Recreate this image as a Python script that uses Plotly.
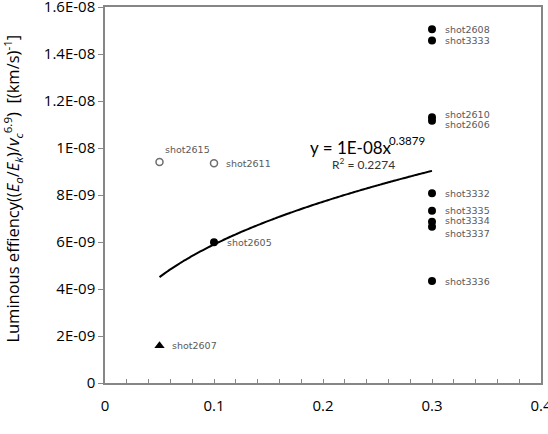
import plotly.graph_objects as go

# Data
filled_x = [0.1, 0.3, 0.3, 0.3, 0.3, 0.3, 0.3, 0.3, 0.3, 0.3]
filled_y = [5.99e-9, 1.505e-8, 1.457e-8, 1.131e-8, 1.116e-8, 8.07e-9, 7.33e-9, 6.86e-9, 6.65e-9, 4.34e-9]
filled_names = ["shot2605", "shot2608", "shot3333", "shot2610", "shot2606",
                "shot3332", "shot3335", "shot3334", "shot3337", "shot3336"]
open_x = [0.05, 0.1]
open_y = [9.40e-9, 9.35e-9]
open_names = ["shot2615", "shot2611"]
tri_x = [0.05]
tri_y = [1.59e-9]
tri_names = ["shot2607"]

# power-law trendline parameters (fit shown on chart)
fit_a = 1.44e-8
fit_b = 0.3879
fit_x = [0.05 + i * 0.0025 for i in range(101)]
fit_y = [fit_a * x ** fit_b for x in fit_x]

yticks = [0, 2e-9, 4e-9, 6e-9, 8e-9, 1e-8, 1.2e-8, 1.4e-8, 1.6e-8]
yticktext = ["0", "2E-09", "4E-09", "6E-09", "8E-09", "1E-08", "1.2E-08", "1.4E-08", "1.6E-08"]
xticks = [0, 0.1, 0.2, 0.3, 0.4]
xticktext = ["0", "0.1", "0.2", "0.3", "0.4"]
y_title = ("Luminous effiency((<i>E<sub>o</sub></i>/<i>E<sub>k</sub></i>)/"
           "<i>v<sub>c</sub></i><sup>6.9</sup>)  [(km/s)<sup>-1</sup>]")

fig = go.Figure()
fig.add_trace(go.Scatter(x=fit_x, y=fit_y, mode="lines",
                         line=dict(color="black", width=2, simplify=False, shape="spline"),
                         hoverinfo="skip"))
fig.add_trace(go.Scatter(x=filled_x, y=filled_y, mode="markers",
                         marker=dict(color="black", size=8, symbol="circle")))
fig.add_trace(go.Scatter(x=open_x, y=open_y, mode="markers",
                         marker=dict(color="white", size=7, symbol="circle",
                                     line=dict(color="#6e6e6e", width=1.5))))
fig.add_trace(go.Scatter(x=tri_x, y=tri_y, mode="markers",
                         marker=dict(color="black", size=9, symbol="triangle-up")))

lab_font = dict(family="DejaVu Sans", size=9.5, color="#5a5a5a")
# label offsets (pixels) relative to points
label_offsets = {
    "shot2605": (11, 0), "shot2608": (11, 0), "shot3333": (11, 0),
    "shot2610": (11, 3), "shot2606": (11, -4), "shot3332": (11, 0),
    "shot3335": (11, 0), "shot3334": (11, 1), "shot3337": (11, -7),
    "shot3336": (11, 0), "shot2615": (3, 13), "shot2611": (10, 0),
    "shot2607": (10, 0),
}
for xs, ys, ns in [(filled_x, filled_y, filled_names), (open_x, open_y, open_names),
                   (tri_x, tri_y, tri_names)]:
    for x, y, n in zip(xs, ys, ns):
        dx, dy = label_offsets[n]
        fig.add_annotation(x=x, y=y, text=n, showarrow=False, xanchor="left",
                           yanchor="middle", xshift=dx, yshift=dy, font=lab_font)

fig.add_annotation(x=0.1858, y=1.004e-8, text="y = 1E-08x", showarrow=False,
                   xanchor="left", yanchor="middle",
                   font=dict(family="Lato", size=17, color="black"))
fig.add_annotation(x=0.2585, y=1.033e-8, text="0.3879", showarrow=False,
                   xanchor="left", yanchor="middle",
                   font=dict(family="Lato", size=11.5, color="black"))
fig.add_annotation(x=0.237, y=9.32e-9, text="R<sup>2</sup> = 0.2274", showarrow=False,
                   font=dict(family="Lato", size=12, color="#333333"))
fig.add_annotation(xref="paper", yref="paper", x=-0.211, y=0.517, text=y_title,
                   textangle=-90, showarrow=False, xanchor="center", yanchor="middle",
                   font=dict(size=16.5, family="Open Sans", color="black"))

fig.update_layout(
    width=548, height=434, showlegend=False,
    paper_bgcolor="white", plot_bgcolor="white",
    margin=dict(l=105, r=7, t=7, b=51),
    font=dict(family="Open Sans", color="black"),
)
fig.update_xaxes(range=[0, 0.4], tickvals=xticks, ticktext=xticktext,
                 showline=True, linecolor="#868686", linewidth=1.5, mirror=True,
                 ticks="inside", ticklen=4, tickcolor="#868686",
                 minor=dict(dtick=0.02, ticks="inside", ticklen=4, tickcolor="#868686"),
                 showgrid=False, zeroline=False, tickfont=dict(size=15, family="Open Sans"),
                 ticklabelstandoff=8, ticklabeloverflow="allow", automargin=False)
fig.update_yaxes(range=[0, 1.6e-8], tickvals=yticks, ticktext=yticktext,
                 showline=True, linecolor="#868686", linewidth=1.5, mirror=True,
                 ticks="outside", ticklen=5, tickcolor="#868686",
                 showgrid=False, zeroline=False, tickfont=dict(size=15, family="Open Sans"),
                 ticklabeloverflow="allow", automargin=False)

fig.write_html("out.html")
